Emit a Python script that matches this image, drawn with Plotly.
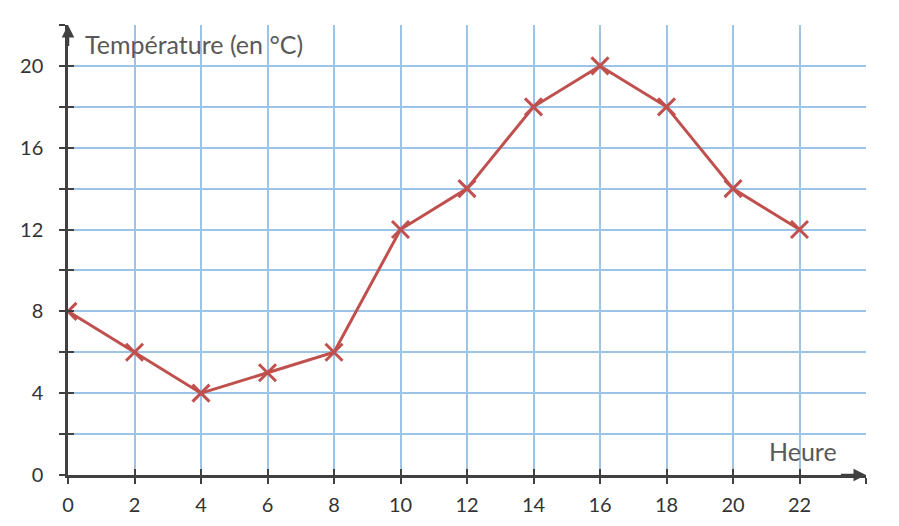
import plotly.graph_objects as go

heures = [0, 2, 4, 6, 8, 10, 12, 14, 16, 18, 20, 22]
temperatures = [8, 6, 4, 5, 6, 12, 14, 18, 20, 18, 14, 12]

x_ticks = list(range(0, 25, 2))
x_ticktext = [str(v) if v <= 22 else "" for v in x_ticks]
y_ticks = list(range(0, 23, 2))
y_ticktext = [str(v) if v % 4 == 0 and v <= 20 else "" for v in y_ticks]

axis_col = "#404040"
label_col = "#333333"
grid_col = "#9dc3e6"
font_fam = "Lato, sans-serif"

fig = go.Figure()
fig.add_trace(go.Scatter(
    x=heures, y=temperatures, mode="lines+markers",
    line=dict(color="#c0504d", width=3),
    marker=dict(symbol="x-thin", size=17, line=dict(color="#c0504d", width=3)),
    showlegend=False, hoverinfo="skip"))
# invisible trace on overlay axes (for inside ticks)
fig.add_trace(go.Scatter(x=[0], y=[0], xaxis="x2", yaxis="y2", mode="markers",
                         marker=dict(opacity=0), showlegend=False, hoverinfo="skip"))

fig.update_layout(
    width=899, height=526,
    margin=dict(l=60, r=41, t=17, b=59),
    paper_bgcolor="white", plot_bgcolor="white",
    xaxis=dict(range=[0, 24], tickvals=x_ticks, ticktext=x_ticktext,
               showgrid=True, gridcolor=grid_col, gridwidth=1.5,
               zeroline=False, showline=True, linecolor=axis_col, linewidth=2.5,
               ticks="outside", ticklen=6, tickwidth=2, tickcolor=axis_col,
               ticklabelstandoff=4,
               tickfont=dict(family=font_fam, size=20, color=label_col)),
    yaxis=dict(range=[0, 22], tickvals=y_ticks, ticktext=y_ticktext,
               showgrid=True, gridcolor=grid_col, gridwidth=1.5,
               zeroline=False, showline=True, linecolor=axis_col, linewidth=2.5,
               ticks="outside", ticklen=6, tickwidth=2, tickcolor=axis_col,
               ticklabelstandoff=12,
               tickfont=dict(family=font_fam, size=20, color=label_col)),
    xaxis2=dict(range=[0, 24], overlaying="x", side="bottom", tickvals=x_ticks,
                showticklabels=False, showgrid=False, zeroline=False,
                ticks="inside", ticklen=6, tickwidth=2, tickcolor=axis_col),
    yaxis2=dict(range=[0, 22], overlaying="y", side="left", tickvals=y_ticks,
                showticklabels=False, showgrid=False, zeroline=False,
                ticks="inside", ticklen=6, tickwidth=2, tickcolor=axis_col),
    annotations=[
        dict(x=0, y=22, xref="x", yref="y", ax=0, ay=20.9, axref="x", ayref="y",
             showarrow=True, arrowhead=2, arrowsize=1, arrowwidth=2.5, arrowcolor=axis_col, text=""),
        dict(x=24, y=0, xref="x", yref="y", ax=23.2, ay=0, axref="x", ayref="y",
             showarrow=True, arrowhead=2, arrowsize=1, arrowwidth=2.5, arrowcolor=axis_col, text=""),
        dict(x=0.45, y=21.05, xref="x", yref="y", xanchor="left", yanchor="middle",
             text="Température (en °C)", showarrow=False,
             font=dict(family=font_fam, size=25, color="#595959")),
        dict(x=23.2, y=1.15, xref="x", yref="y", xanchor="right", yanchor="middle",
             text="Heure", showarrow=False,
             font=dict(family=font_fam, size=25, color="#595959")),
    ],
)

fig.write_html("out.html")
